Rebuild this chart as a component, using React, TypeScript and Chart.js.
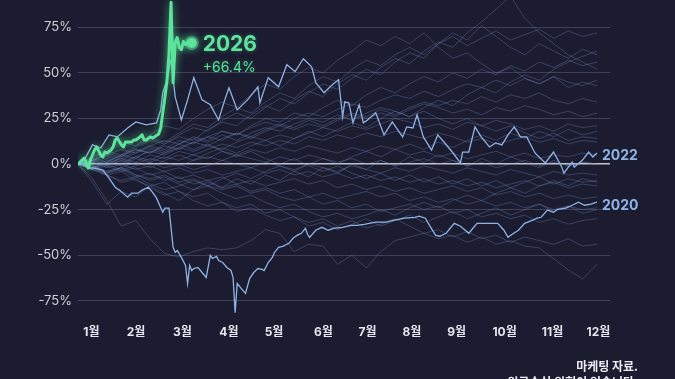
import React, { useEffect, useRef } from 'react';
import { Chart, registerables } from 'chart.js';

Chart.register(...registerables);

const FONT = "Inter, 'Noto Sans CJK KR', 'Noto Sans', sans-serif";
const BG = '#1b1c2f';
const GREEN = '#5be49b';
const BLUE = '#8fb3e6';
const FAINT = 'rgba(125,150,205,0.36)';

const MONTH_LABELS = ['1월', '2월', '3월', '4월', '5월', '6월', '7월', '8월', '9월', '10월', '11월', '12월'];
const MONTH_TICK_DAYS = [6.5, 28.1, 50.5, 73.0, 94.8, 118.7, 140.0, 161.5, 183.1, 206.3, 229.5, 251.7];
const Y_TICKS = [-75, -50, -25, 0, 25, 50, 75];
const Y_MIN = -85;
const Y_MAX = 90;
const X_MIN = 0;
const X_MAX = 257.3;

// 2026 (highlighted, to date)
const DAYS_2026 = [0, 2, 3, 5, 6, 7, 8, 9, 11, 12, 13, 14, 16, 17, 18, 19, 21, 22, 23, 24, 26, 27, 28, 30, 31, 32, 33, 35, 36, 37, 39, 40, 41, 42, 43, 44, 45, 46, 47, 48, 49, 50, 51, 52, 53, 54, 55];
const VALUES_2026 = [0, 2.2, 3.3, -2.2, 2.2, 5.0, 7.7, 9.4, 5.0, 3.9, 6.6, 6.1, 7.7, 9.4, 13.2, 14.3, 10.5, 9.4, 12.1, 12.1, 12.1, 13.2, 13.2, 14.9, 16.0, 13.2, 13.2, 14.9, 14.3, 14.9, 16.5, 19.8, 28.1, 36.3, 45.2, 60.0, 88.7, 44.6, 66.6, 69.4, 63.9, 62.8, 67.2, 65.5, 66.6, 67.2, 66.4];

// 2022
const DAYS_2022 = [0, 3, 7, 11, 15, 19, 24, 28, 33, 38, 40, 41, 43, 45, 47, 50, 53, 56, 60, 64, 68, 71, 73, 77, 82, 87, 88, 92, 97, 101, 105, 109, 113, 115, 119, 123, 126, 128, 129, 131, 133, 136, 138, 140, 144, 148, 152, 157, 159, 162, 164, 167, 171, 174, 177, 181, 185, 186, 189, 192, 195, 199, 202, 205, 208, 211, 214, 217, 221, 226, 230, 234, 235, 239, 240, 244, 247, 249, 251];
const VALUES_2022 = [0, 2.2, 10.5, 8.8, 16.0, 14.9, 19.8, 23.1, 21.5, 22.6, 29.7, 39.1, 46.3, 57.3, 36.9, 24.2, 35.2, 47.4, 35.2, 32.5, 24.2, 35.2, 41.9, 29.7, 35.2, 42.4, 33.6, 47.4, 42.4, 54.5, 50.7, 57.8, 53.4, 44.6, 39.1, 43.5, 46.3, 25.9, 34.1, 33.6, 22.6, 32.5, 22.6, 24.2, 28.1, 16.0, 23.1, 14.9, 20.4, 19.8, 27.0, 14.9, 7.7, 16.0, 12.1, 6.6, 0.6, 6.6, 6.6, 20.4, 14.9, 9.4, 11.6, 10.5, 16.0, 20.4, 14.9, 14.9, 6.1, 0.6, 6.6, -1.7, -5.0, 1.1, -1.7, 2.2, 6.6, 3.9, 6.1];

// 2020
const DAYS_2020 = [0, 2, 5, 8, 12, 15, 18, 20, 24, 26, 29, 31, 34, 36, 38, 41, 42, 44, 46, 47, 48, 50, 52, 53, 54, 55, 56, 58, 60, 62, 64, 65, 67, 68, 70, 72, 74, 75, 76, 77, 79, 81, 83, 85, 87, 89, 90, 92, 94, 95, 97, 99, 102, 104, 106, 108, 110, 111, 112, 115, 118, 121, 124, 128, 132, 135, 139, 144, 149, 153, 158, 163, 165, 168, 170, 173, 175, 178, 180, 182, 185, 189, 191, 193, 198, 203, 206, 208, 210, 213, 216, 220, 222, 224, 227, 230, 232, 236, 239, 242, 245, 248, 251];
const VALUES_2020 = [-0.6, 0.6, -2.2, -2.2, -3.3, -7.7, -12.7, -14.3, -18.2, -16.0, -16.0, -14.3, -12.7, -15.4, -18.7, -26.4, -24.2, -24.2, -45.7, -48.5, -47.4, -51.2, -55.6, -65.5, -55.6, -58.4, -57.3, -56.7, -59.5, -62.2, -50.1, -51.8, -50.7, -52.9, -54.0, -56.7, -58.4, -62.2, -81.5, -65.5, -68.3, -71.0, -62.8, -59.5, -57.3, -57.8, -58.4, -54.0, -51.2, -48.5, -45.7, -45.2, -43.5, -40.7, -39.1, -38.0, -35.2, -38.5, -40.2, -36.3, -34.7, -36.3, -35.2, -34.7, -33.6, -33.6, -33.0, -31.9, -31.9, -30.8, -29.7, -29.2, -28.6, -29.7, -33.6, -39.1, -39.6, -38.0, -35.2, -32.5, -34.1, -38.0, -35.2, -32.5, -32.5, -32.5, -36.3, -40.2, -38.5, -36.3, -32.5, -30.8, -29.7, -29.2, -25.3, -26.4, -24.8, -24.2, -22.6, -20.9, -22.6, -22.0, -20.9];

// other years (sampled weekly)
const BG_STEP_DAYS = 251 / 36;
const BG_A = [0, 3, 7, 5, 10, 14, 12, 17, 22, 20, 26, 31, 28, 34, 39, 36, 43, 48, 45, 52, 57, 54, 60, 64, 60, 66, 70, 65, 69, 73, 68, 71, 74, 69, 73, 70, 72];
const BG_B = [0, 2, -1, 4, 8, 6, 11, 15, 13, 19, 23, 21, 27, 32, 29, 35, 40, 37, 44, 49, 46, 53, 58, 55, 62, 67, 64, 72, 78, 85, 92, 80, 72, 66, 60, 56, 52];
const BG_C = [0, 4, 8, 12, 10, 16, 21, 19, 25, 30, 34, 31, 38, 44, 41, 48, 53, 50, 57, 62, 68, 65, 70, 66, 72, 64, 58, 61, 55, 50, 53, 47, 44, 48, 42, 45, 43];
const BG_D = [0, -3, 1, 5, 3, 8, 6, 11, 15, 13, 18, 16, 21, 25, 23, 28, 26, 31, 35, 32, 38, 42, 39, 44, 48, 45, 50, 47, 52, 49, 54, 51, 56, 53, 57, 54, 56];
const BG_E = [0, 2, 5, 3, 7, 10, 8, 13, 11, 15, 18, 16, 20, 23, 21, 25, 28, 26, 30, 33, 31, 35, 38, 36, 40, 37, 41, 44, 42, 46, 43, 47, 44, 48, 45, 43, 46];
const BG_F = [0, -2, 2, 0, 4, 7, 5, 9, 12, 10, 14, 17, 15, 19, 22, 20, 24, 21, 25, 28, 26, 30, 27, 31, 34, 32, 35, 33, 37, 34, 38, 36, 39, 35, 33, 36, 34];
const BG_G = [0, 3, 1, 5, 8, 6, 10, 8, 12, 15, 13, 17, 14, 18, 21, 19, 22, 20, 24, 27, 25, 28, 26, 30, 33, 31, 28, 30, 27, 31, 29, 32, 30, 27, 29, 26, 28];
const BG_H = [0, -1, 3, 1, 4, 2, 6, 9, 7, 10, 8, 12, 15, 13, 16, 14, 17, 20, 18, 21, 19, 22, 25, 23, 20, 22, 19, 23, 21, 24, 22, 19, 21, 18, 22, 20, 21];
const BG_I = [0, 2, 0, 3, 1, 5, 3, 7, 5, 8, 11, 9, 12, 10, 13, 11, 15, 13, 16, 14, 17, 15, 18, 16, 14, 17, 15, 12, 14, 11, 13, 15, 12, 14, 11, 13, 12];
const BG_J = [0, -2, 1, -1, 3, 1, 4, 2, 5, 3, 7, 5, 8, 6, 9, 7, 10, 8, 6, 9, 7, 10, 8, 5, 7, 4, 6, 3, 5, 7, 4, 6, 3, 5, 4, 6, 5];
const BG_K = [0, 1, -1, 2, 0, 3, 1, -1, 2, 4, 2, 5, 3, 1, 4, 2, 5, 3, 1, 3, 0, 2, -1, 1, 3, 0, 2, -1, 1, -2, 0, 2, -1, 1, -1, 1, 0];
const BG_L = [0, -2, 0, -3, -1, 1, -2, 0, -3, -1, 2, 0, -2, 1, -1, -3, 0, -2, -4, -1, -3, -5, -2, -4, -1, -3, -5, -2, -4, -6, -3, -5, -7, -4, -6, -5, -6];
const BG_M = [0, 1, -2, 0, -3, -1, -4, -2, -5, -3, -6, -4, -2, -5, -3, -6, -4, -7, -5, -8, -6, -9, -7, -10, -8, -11, -9, -12, -10, -13, -11, -9, -12, -10, -13, -11, -12];
const BG_N = [0, -3, -1, -4, -2, -6, -4, -8, -6, -9, -7, -11, -9, -12, -10, -8, -11, -9, -13, -11, -14, -12, -15, -13, -16, -14, -12, -15, -13, -17, -15, -18, -16, -19, -17, -19, -18];
const BG_O = [0, -2, -5, -3, -7, -5, -9, -7, -11, -9, -13, -11, -15, -13, -16, -14, -18, -16, -19, -17, -15, -18, -16, -20, -18, -21, -19, -22, -20, -23, -21, -24, -22, -25, -23, -25, -24];
const BG_P = [0, -1, -4, -2, -6, -8, -6, -10, -8, -12, -14, -12, -16, -14, -18, -20, -18, -22, -20, -24, -22, -26, -24, -22, -25, -23, -27, -25, -29, -27, -30, -28, -32, -30, -33, -31, -30];
const BG_Q = [0, -8, -20, -34, -31, -41, -49, -51, -48, -46, -47, -46, -42, -36, -38, -48, -44, -45, -55, -50, -57, -48, -42, -40, -38, -41, -39, -43, -40, -44, -42, -45, -46, -52, -58, -63, -55];
const BG_R = [0, -3, -6, -4, -9, -12, -10, -15, -18, -16, -21, -24, -22, -27, -25, -29, -32, -30, -34, -31, -35, -33, -30, -34, -38, -36, -40, -37, -41, -39, -43, -40, -42, -44, -41, -45, -44];
const BG_S = [0, -3, -6, -9, -7, -11, -14, -12, -9, -12, -8, -5, -8, -4, -1, -4, 0, 3, 0, 4, 7, 4, 8, 11, 8, 12, 9, 13, 16, 13, 17, 14, 18, 15, 19, 16, 18];
const BG_T = [0, 2, 5, 8, 6, 10, 13, 11, 8, 11, 7, 4, 7, 3, 0, 3, -1, -4, -1, -5, -8, -5, -9, -6, -10, -7, -11, -8, -12, -9, -13, -10, -7, -11, -8, -10, -9];
const BG_U = [0, -1, -4, -2, -6, -9, -7, -11, -14, -12, -16, -19, -17, -21, -24, -22, -26, -29, -27, -30, -28, -25, -28, -24, -21, -24, -20, -17, -20, -16, -13, -16, -12, -9, -12, -8, -10];
const BG_V = [0, 1, 4, 2, 6, 9, 7, 11, 14, 12, 16, 13, 17, 20, 18, 22, 25, 23, 27, 24, 28, 31, 29, 26, 29, 25, 22, 25, 21, 18, 21, 17, 14, 17, 13, 15, 14];
const BG_W = [0, -2, -5, -2, 1, -2, 2, 5, 2, 6, 9, 6, 10, 13, 10, 14, 18, 15, 19, 23, 20, 25, 29, 26, 31, 35, 32, 38, 42, 39, 45, 49, 46, 52, 56, 59, 62];
const BG_X = [0, -10, -22, -15, -18, -12, -16, -20, -14, -10, -13, -8, -11, -6, -9, -4, -7, -2, -5, 0, -3, 2, -1, 4, 1, 5, 2, -1, 3, 0, 4, 1, -2, 2, -1, 1, 0];
const BG_Y = [0, 2, 6, 4, 9, 13, 11, 16, 20, 18, 24, 28, 25, 31, 36, 33, 39, 44, 41, 47, 52, 49, 56, 61, 58, 66, 72, 68, 76, 70, 64, 60, 66, 62, 58, 63, 60];
const BG_Z = [0, -2, -6, -10, -8, -13, -17, -15, -20, -23, -21, -26, -24, -28, -31, -29, -34, -32, -36, -33, -30, -34, -31, -28, -32, -29, -26, -30, -27, -24, -28, -25, -22, -26, -23, -27, -25];

const BG_SERIES = [BG_A, BG_B, BG_C, BG_D, BG_E, BG_F, BG_G, BG_H, BG_I, BG_J, BG_K, BG_L, BG_M, BG_N, BG_O, BG_P, BG_Q, BG_R, BG_S, BG_T, BG_U, BG_V, BG_W, BG_X, BG_Y, BG_Z];

const zip = (days: number[], vals: number[]) => days.map((d, i) => ({ x: d, y: vals[i] }));

const glowPlugin = {
  id: 'glow',
  beforeDatasetDraw(chart: any, args: any) {
    const ds = chart.data.datasets[args.index];
    if (ds.glow) {
      chart.ctx.save();
      chart.ctx.shadowColor = 'rgba(91,228,155,0.75)';
      chart.ctx.shadowBlur = 9;
    }
  },
  afterDatasetDraw(chart: any, args: any) {
    const ds = chart.data.datasets[args.index];
    if (ds.glow) chart.ctx.restore();
  },
};

const labelPlugin = {
  id: 'endLabels',
  afterDatasetsDraw(chart: any) {
    const { ctx } = chart;
    const xs = chart.scales.x;
    const ys = chart.scales.y;
    ctx.save();
    ctx.textAlign = 'left';
    ctx.textBaseline = 'middle';
    const n = DAYS_2026.length - 1;
    const gx = xs.getPixelForValue(DAYS_2026[n]);
    const gy = ys.getPixelForValue(VALUES_2026[n]);
    ctx.fillStyle = GREEN;
    ctx.shadowColor = 'rgba(91,228,155,0.35)';
    ctx.shadowBlur = 4;
    ctx.font = `700 21px ${FONT}`;
    ctx.fillText('2026', gx + 11, gy + 2);
    ctx.font = `400 14px ${FONT}`;
    ctx.fillText(`+${VALUES_2026[n].toFixed(1)}%`, gx + 11, gy + 25);
    ctx.shadowBlur = 0;
    ctx.fillStyle = BLUE;
    ctx.font = `700 14px ${FONT}`;
    const n22 = DAYS_2022.length - 1;
    ctx.fillText('2022', xs.getPixelForValue(DAYS_2022[n22]) + 5, ys.getPixelForValue(VALUES_2022[n22]) + 3);
    const n20 = DAYS_2020.length - 1;
    ctx.fillText('2020', xs.getPixelForValue(DAYS_2020[n20]) + 5, ys.getPixelForValue(VALUES_2020[n20]) + 4);
    ctx.restore();
  },
};

export default function App() {
  const ref = useRef<HTMLCanvasElement | null>(null);

  useEffect(() => {
    if (!ref.current) return;
    const bgSets = BG_SERIES.map((vals, k) => ({
      label: 'bg' + k,
      data: vals.map((v, i) => ({ x: i * BG_STEP_DAYS, y: v })),
      borderColor: FAINT,
      borderWidth: 0.9,
      pointRadius: 0,
      order: 3,
    }));
    const n = DAYS_2026.length - 1;
    const chart = new Chart(ref.current, {
      type: 'line',
      data: {
        datasets: [
          {
            label: '2026-dot',
            data: [{ x: DAYS_2026[n], y: VALUES_2026[n] }],
            showLine: false,
            pointRadius: 5,
            pointBackgroundColor: GREEN,
            pointBorderColor: 'rgba(91,228,155,0.45)',
            pointBorderWidth: 4,
            order: -1,
            glow: true,
          } as any,
          {
            label: '2026',
            data: zip(DAYS_2026, VALUES_2026),
            borderColor: GREEN,
            borderWidth: 3,
            pointRadius: 0,
            borderJoinStyle: 'round',
            order: 0,
            glow: true,
          } as any,
          {
            label: '2022',
            data: zip(DAYS_2022, VALUES_2022),
            borderColor: BLUE,
            borderWidth: 1.3,
            pointRadius: 0,
            order: 1,
          },
          {
            label: '2020',
            data: zip(DAYS_2020, VALUES_2020),
            borderColor: BLUE,
            borderWidth: 1.3,
            pointRadius: 0,
            order: 1,
          },
          ...bgSets,
        ],
      },
      options: {
        animation: false,
        responsive: false,
        maintainAspectRatio: false,
        layout: { autoPadding: false, padding: { left: 0, right: 65, top: 0, bottom: 32 } },
        plugins: { legend: { display: false }, tooltip: { enabled: false } },
        elements: { line: { tension: 0 }, point: { radius: 0 } },
        scales: {
          x: {
            type: 'linear',
            min: X_MIN,
            max: X_MAX,
            grid: { display: false, drawTicks: false },
            border: { display: false },
            afterBuildTicks: (s: any) => {
              s.ticks = MONTH_TICK_DAYS.map((v) => ({ value: v }));
            },
            afterFit: (s: any) => {
              s.height = 28;
              s.paddingLeft = 0;
              s.paddingRight = 0;
            },
            ticks: {
              autoSkip: false,
              maxRotation: 0,
              padding: 6,
              color: '#e6e6ee',
              font: { family: FONT, size: 12, weight: 'bold' },
              callback: (_v: any, i: number) => MONTH_LABELS[i],
            },
          },
          y: {
            min: Y_MIN,
            max: Y_MAX,
            afterBuildTicks: (s: any) => {
              s.ticks = Y_TICKS.map((v) => ({ value: v }));
            },
            afterFit: (s: any) => {
              s.width = 78;
              s.paddingTop = 0;
              s.paddingBottom = 0;
            },
            border: { display: false },
            grid: {
              drawTicks: false,
              color: (c: any) => (c.tick && c.tick.value === 0 ? '#c4c4cc' : '#3f3f58'),
              lineWidth: (c: any) => (c.tick && c.tick.value === 0 ? 1.6 : 1),
            },
            ticks: {
              padding: 6,
              color: '#cfcfd8',
              font: { family: FONT, size: 13 },
              callback: (v: any) => `${v}%`,
            },
          },
        },
      },
      plugins: [glowPlugin, labelPlugin],
    } as any);
    return () => chart.destroy();
  }, []);

  return (
    <div style={{ position: 'fixed', left: 0, top: 0, width: 675, height: 379, background: BG, overflow: 'hidden' }}>
      <canvas ref={ref} width={675} height={379} style={{ display: 'block' }} />
      <div
        style={{
          position: 'absolute',
          right: 37,
          top: 358,
          textAlign: 'right',
          color: '#ececf2',
          fontFamily: "'Noto Sans CJK KR', sans-serif",
          fontWeight: 700,
          fontSize: 12,
          lineHeight: '16px',
          whiteSpace: 'nowrap',
        }}
      >
        <div>마케팅 자료.</div>
        <div>원금손실 위험이 있습니다.</div>
      </div>
    </div>
  );
}
